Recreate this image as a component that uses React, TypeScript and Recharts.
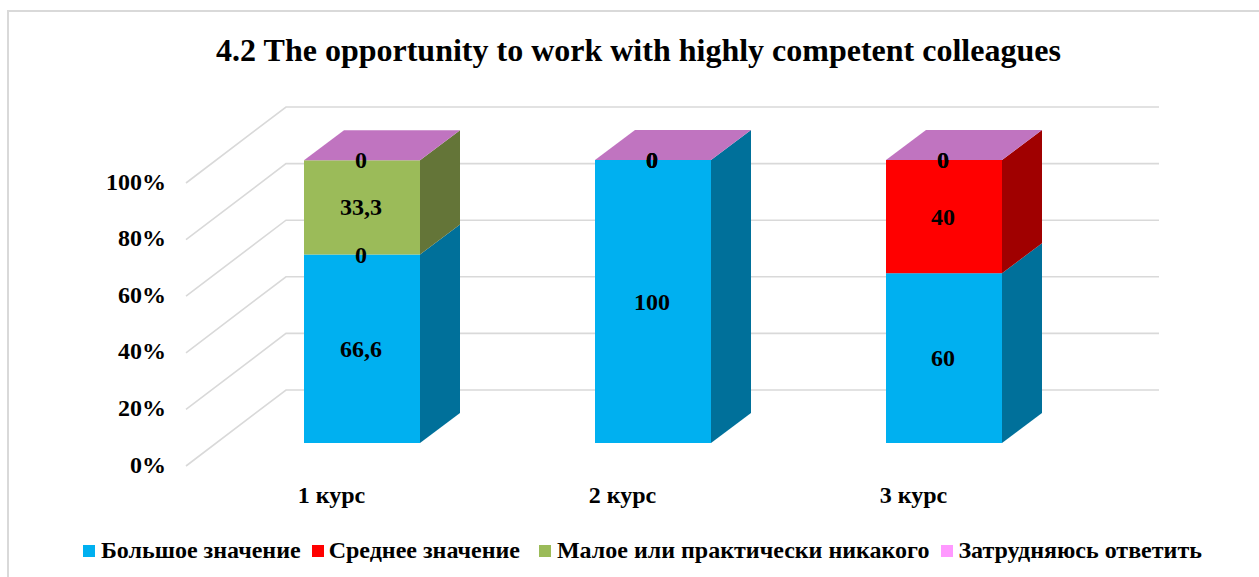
import { Bar, BarChart, CartesianGrid, LabelList, Legend, XAxis, YAxis } from "recharts";

const courses = ["1 курс", "2 курс", "3 курс"];
const big = [66.6, 100, 60];
const medium = [0, 0, 40];
const small = [33.3, 0, 0];
const unsure = [0, 0, 0];
const yTicks = [0, 20, 40, 60, 80, 100];

const data = courses.map((course, i) => ({
  course,
  big: big[i],
  medium: medium[i],
  small: small[i],
  unsure: unsure[i],
}));

const FONT = "'Liberation Serif', 'Times New Roman', serif";
const BLUE = "#00B0F0";
const RED = "#FF0000";
const GREEN = "#9BBB59";
const PINK = "#FF99FF";
const TOP_FACE = "#C074C0";
const GRID = "#D9D9D9";

// 3D look: the wall runs back from the axis, bars sit part way in
const WALL_DX = 100;
const WALL_DY = 76;
const BAR_DX = 30;
const BAR_DY = 23;
const DEPTH_X = 40;
const DEPTH_Y = 30;

// legend spacing per item, the original is not evenly spaced
const LEGEND_ICON_GAP = [6, 5, 6, 5];
const LEGEND_ITEM_GAP = [11, 19, 12, 0];

function makeBox(sideFill: string, withTop: boolean) {
  return function Box(props: any) {
    const { x, y, width, height, fill } = props;
    const l = x + BAR_DX;
    const r = l + width;
    const t = y - BAR_DY;
    const b = t + height;
    return (
      <g>
        {height > 0 && <rect x={l} y={t} width={width} height={height} fill={fill} />}
        {height > 0 && (
          <polygon
            points={`${r},${t} ${r + DEPTH_X},${t - DEPTH_Y} ${r + DEPTH_X},${b - DEPTH_Y} ${r},${b}`}
            fill={sideFill}
          />
        )}
        {withTop && (
          <polygon
            points={`${l},${t} ${l + DEPTH_X},${t - DEPTH_Y} ${r + DEPTH_X},${t - DEPTH_Y} ${r},${t}`}
            fill={TOP_FACE}
          />
        )}
      </g>
    );
  };
}

function BarValue(props: any) {
  const box = props.viewBox ?? props;
  return (
    <text
      x={box.x + BAR_DX + box.width / 2 - 1}
      y={box.y - BAR_DY + box.height / 2}
      textAnchor="middle"
      dominantBaseline="central"
      fontFamily={FONT}
      fontWeight={700}
      fontSize={24}
      fill="#000"
    >
      {String(props.value).replace(".", ",")}
    </text>
  );
}

function WallLine(props: any) {
  const { x1, x2, y1 } = props;
  return (
    <polyline
      points={`${x1},${y1} ${x1 + WALL_DX},${y1 - WALL_DY} ${x2 + WALL_DX},${y1 - WALL_DY}`}
      fill="none"
      stroke={GRID}
      strokeWidth={1.6}
    />
  );
}

function LegendRow({ payload }: any) {
  return (
    <div style={{ display: "flex", alignItems: "center", fontFamily: FONT, fontWeight: 700, fontSize: 24, color: "#000", whiteSpace: "nowrap" }}>
      {(payload ?? []).map((item: any, i: number) => (
        <span key={item.value} style={{ display: "flex", alignItems: "center", marginRight: LEGEND_ITEM_GAP[i] }}>
          <span style={{ width: 12, height: 12, background: item.color, marginRight: LEGEND_ICON_GAP[i] }} />
          {item.value}
        </span>
      ))}
    </div>
  );
}

export default function App() {
  return (
    <div style={{ position: "fixed", left: 0, top: 0, width: 1259, height: 577, overflow: "hidden", background: "#fff" }}>
      <div style={{ position: "absolute", left: 7, top: 10, width: 1300, height: 600, borderLeft: `2px solid ${GRID}`, borderTop: `2px solid ${GRID}` }} />
      <div style={{ position: "absolute", left: 0, width: 1277, top: 32, textAlign: "center", fontFamily: FONT, fontWeight: 700, fontSize: 32, lineHeight: "36px", color: "#000" }}>
        4.2 The opportunity to work with highly competent colleagues
      </div>
      <div style={{ position: "absolute", left: 0, top: 0 }}>
        <BarChart
          width={1259}
          height={577}
          data={data}
          barSize={116}
          margin={{ top: 183, right: 200, bottom: 71, left: 126 }}
        >
          <CartesianGrid vertical={false} horizontal={WallLine} />
          <XAxis
            dataKey="course"
            height={40}
            axisLine={false}
            tickLine={false}
            tickMargin={14}
            tick={{ fill: "#000", fontFamily: FONT, fontWeight: 700, fontSize: 24 }}
          />
          <YAxis
            width={60}
            domain={[0, 100]}
            ticks={yTicks}
            axisLine={false}
            tickLine={false}
            tickMargin={14}
            tickFormatter={(v) => `${v}%`}
            tick={{ fill: "#000", fontFamily: FONT, fontWeight: 700, fontSize: 24, dy: -2 }}
          />
          <Bar dataKey="big" name="Большое значение" stackId="a" fill={BLUE} shape={makeBox("#00709A", false)} isAnimationActive={false}>
            <LabelList dataKey="big" content={BarValue} />
          </Bar>
          <Bar dataKey="medium" name="Среднее значение" stackId="a" fill={RED} shape={makeBox("#A00000", false)} isAnimationActive={false}>
            <LabelList dataKey="medium" content={BarValue} />
          </Bar>
          <Bar dataKey="small" name="Малое или практически никакого" stackId="a" fill={GREEN} shape={makeBox("#647538", false)} isAnimationActive={false}>
            <LabelList dataKey="small" content={BarValue} />
          </Bar>
          <Bar dataKey="unsure" name="Затрудняюсь ответить" stackId="a" fill={PINK} shape={makeBox(TOP_FACE, true)} isAnimationActive={false}>
            <LabelList dataKey="unsure" content={BarValue} />
          </Bar>
          <Legend
            layout="horizontal"
            verticalAlign="middle"
            align="center"
            itemSorter={null}
            content={LegendRow}
            wrapperStyle={{ position: "absolute", left: 83, top: 537, width: 1170, height: 28 }}
          />
        </BarChart>
      </div>
    </div>
  );
}
